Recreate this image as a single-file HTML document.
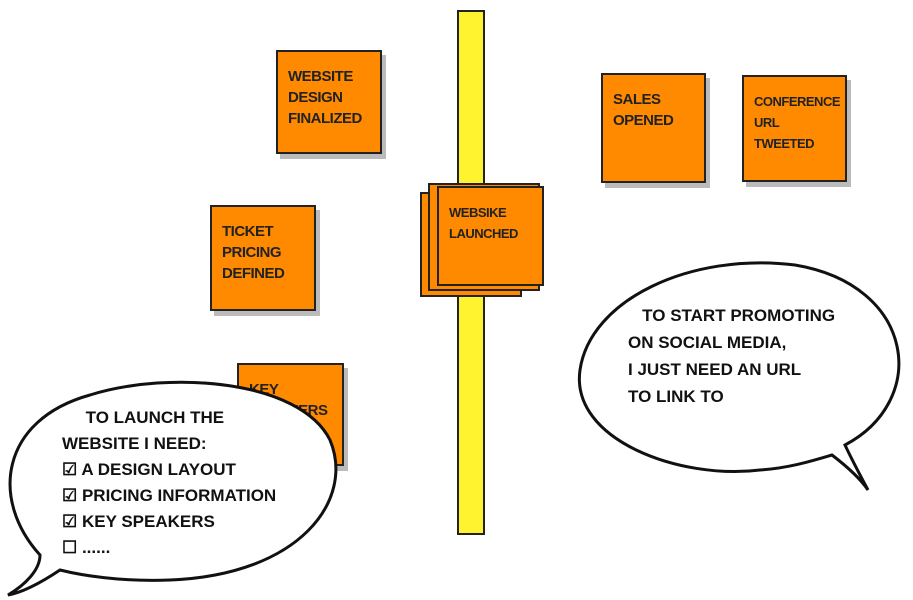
<!DOCTYPE html>
<html><head><style>
body{margin:0;background:#fff;width:913px;height:600px;overflow:hidden;position:relative;font-family:"Liberation Sans",sans-serif}
.n{position:absolute;background:#ff8a00;border:2px solid #222;box-shadow:4px 5px 0 #bbb;box-sizing:border-box;font-size:15px;line-height:21px;color:#222;padding:14px 10px;font-weight:bold;text-transform:uppercase;letter-spacing:-0.5px}
svg{position:absolute;left:0;top:0}
.t{position:absolute;font-size:17px;font-weight:bold;color:#111;text-transform:uppercase;line-height:26px;letter-spacing:0px}
</style></head><body>
<div style="position:absolute;left:457px;top:10px;width:28px;height:525px;background:#fff22e;border:2px solid #222;box-sizing:border-box"></div>
<div class="n" style="left:276px;top:50px;width:106px;height:104px">Website design finalized</div>
<div class="n" style="left:210px;top:205px;width:106px;height:106px">Ticket pricing defined</div>
<div class="n" style="left:237px;top:363px;width:107px;height:103px">Key speakers</div>
<div class="n" style="left:601px;top:73px;width:105px;height:110px">Sales opened</div>
<div class="n" style="left:742px;top:75px;width:105px;height:107px;font-size:13px">Conference URL tweeted</div>
<div class="n" style="left:420px;top:192px;width:102px;height:105px;box-shadow:none"></div>
<div class="n" style="left:428px;top:183px;width:112px;height:108px;box-shadow:none"></div>
<div class="n" style="left:437px;top:186px;width:107px;height:100px;box-shadow:none;font-size:13px">Websike launched</div>
<svg width="913" height="600">
<path d="M40 555 C -10 500 0 420 90 395 C 170 370 300 380 330 440 C 355 500 300 575 170 580 C 120 582 80 575 60 570 C 45 580 25 592 8 595 C 25 585 40 570 40 555 Z" fill="#fff" stroke="#111" stroke-width="3"/>
<path d="M845 445 C 930 400 915 285 795 265 C 690 252 590 300 580 370 C 570 440 680 480 760 470 C 790 468 815 460 832 455 C 845 465 860 478 868 490 C 860 475 852 460 845 445 Z" fill="#fff" stroke="#111" stroke-width="3"/>
</svg>
<div class="t" style="left:62px;top:405px;width:260px">&nbsp;&nbsp;&nbsp;&nbsp;&nbsp;To launch the<br>Website I need:<br>☑ A design layout<br>☑ Pricing information<br>☑ Key speakers<br>☐ ......</div>
<div class="t" style="left:628px;top:302px;width:270px;line-height:27px">&nbsp;&nbsp;&nbsp;To start promoting<br>on social media,<br>I just need an URL<br>to link to</div>
</body></html>
